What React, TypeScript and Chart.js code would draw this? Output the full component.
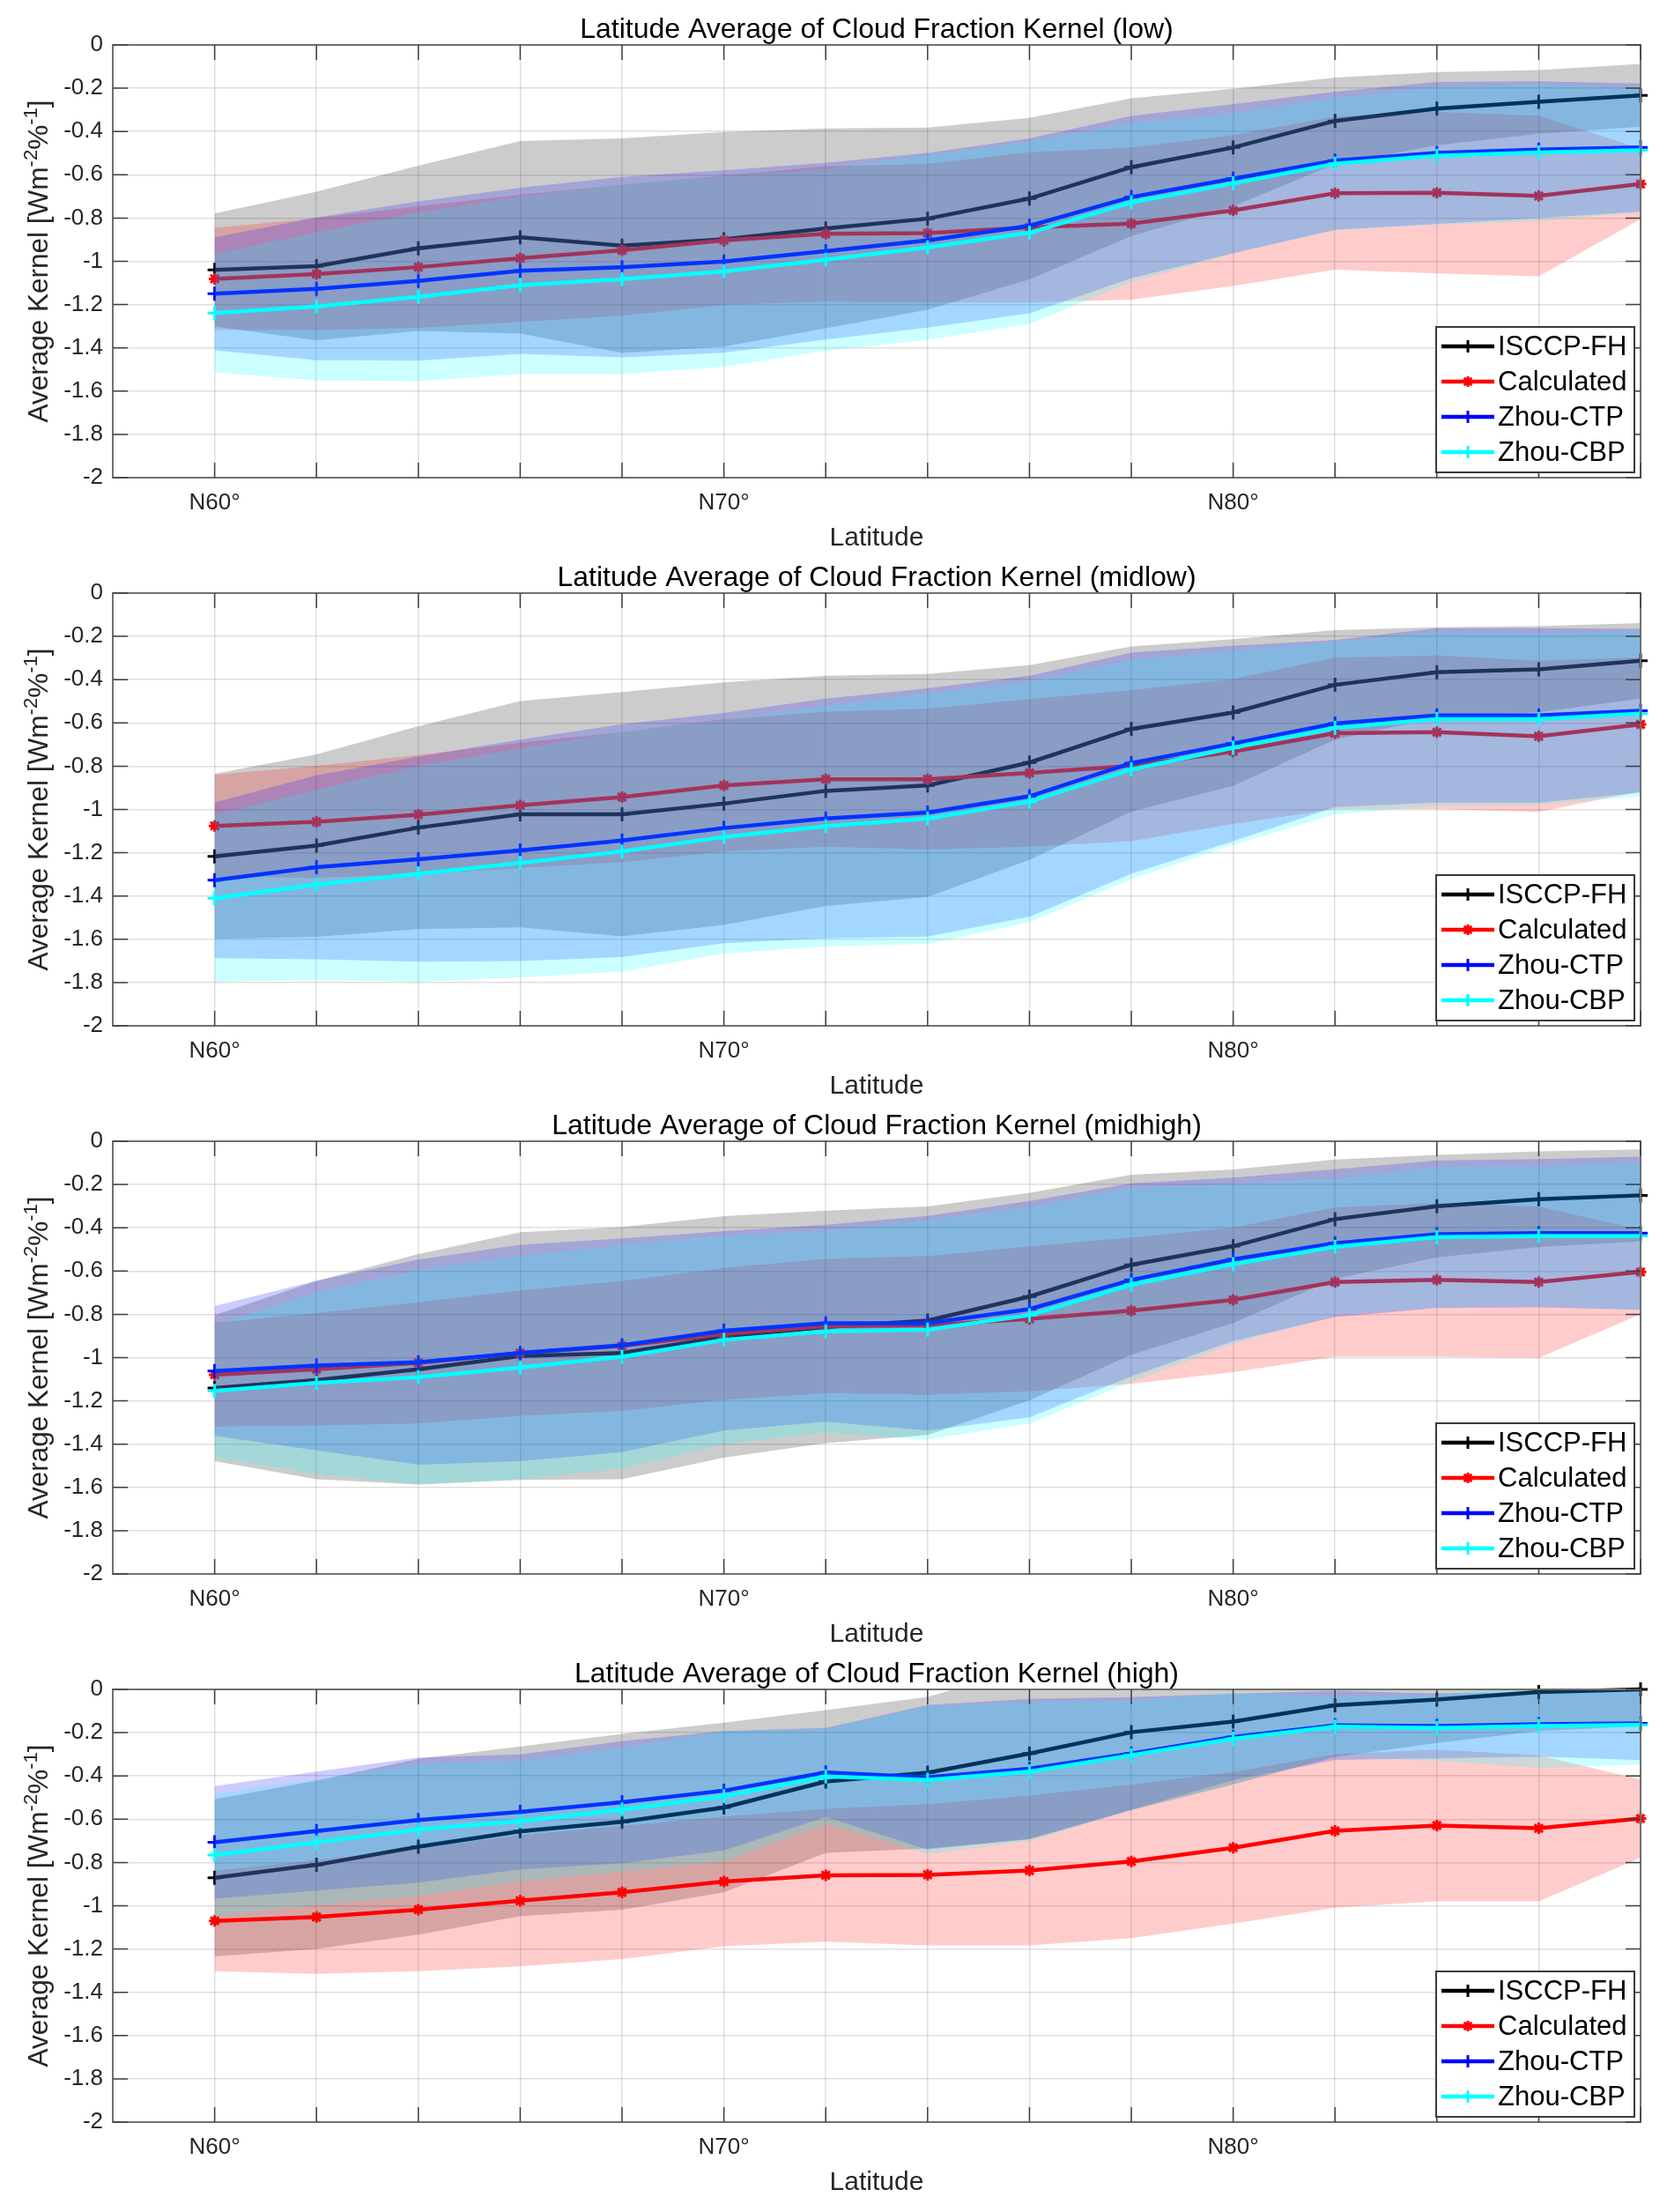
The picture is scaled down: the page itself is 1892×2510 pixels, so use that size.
import React, { useEffect, useRef } from 'react';
import { Chart, registerables } from 'chart.js';

Chart.register(...registerables);

// ---------------- data ----------------
const latitudes = [60, 62, 64, 66, 68, 70, 72, 74, 76, 78, 80, 82, 84, 86, 88];
const xTickValues = [60, 62, 64, 66, 68, 70, 72, 74, 76, 78, 80, 82, 84, 86, 88];
const yTickValues = [0, -0.2, -0.4, -0.6, -0.8, -1, -1.2, -1.4, -1.6, -1.8, -2];
const seriesNames = ['ISCCP-FH', 'Calculated', 'Zhou-CTP', 'Zhou-CBP'];
const panelTitles = [
  'Latitude Average of Cloud Fraction Kernel (low)',
  'Latitude Average of Cloud Fraction Kernel (midlow)',
  'Latitude Average of Cloud Fraction Kernel (midhigh)',
  'Latitude Average of Cloud Fraction Kernel (high)',
];

// low
const lowIsccpMean = [-1.04, -1.022, -0.94, -0.889, -0.928, -0.898, -0.848, -0.803, -0.71, -0.565, -0.474, -0.351, -0.294, -0.263, -0.233];
const lowIsccpStd = [0.261, 0.344, 0.382, 0.445, 0.496, 0.496, 0.462, 0.421, 0.373, 0.319, 0.271, 0.2, 0.169, 0.147, 0.145];
const lowCalcMean = [-1.081, -1.059, -1.027, -0.986, -0.949, -0.903, -0.873, -0.87, -0.843, -0.826, -0.765, -0.685, -0.683, -0.698, -0.643];
const lowCalcStd = [0.236, 0.259, 0.281, 0.294, 0.303, 0.299, 0.312, 0.32, 0.347, 0.351, 0.349, 0.354, 0.373, 0.371, 0.163];
const lowCtpMean = [-1.15, -1.127, -1.091, -1.044, -1.027, -1.001, -0.953, -0.903, -0.836, -0.703, -0.618, -0.535, -0.499, -0.484, -0.474];
const lowCtpStd = [0.261, 0.33, 0.368, 0.384, 0.417, 0.422, 0.408, 0.404, 0.404, 0.375, 0.344, 0.319, 0.328, 0.316, 0.296];
const lowCbpMean = [-1.239, -1.209, -1.164, -1.111, -1.082, -1.047, -0.993, -0.936, -0.868, -0.728, -0.64, -0.549, -0.512, -0.497, -0.487];
const lowCbpStd = [0.274, 0.342, 0.39, 0.41, 0.439, 0.441, 0.42, 0.427, 0.421, 0.369, 0.324, 0.307, 0.319, 0.318, 0.286];

// midlow
const midlowIsccpMean = [-1.217, -1.167, -1.084, -1.022, -1.022, -0.973, -0.914, -0.889, -0.783, -0.628, -0.552, -0.424, -0.366, -0.352, -0.313];
const midlowIsccpStd = [0.382, 0.422, 0.469, 0.523, 0.565, 0.561, 0.532, 0.515, 0.45, 0.382, 0.339, 0.253, 0.208, 0.199, 0.175];
const midlowCalcMean = [-1.076, -1.057, -1.024, -0.981, -0.943, -0.889, -0.86, -0.86, -0.831, -0.798, -0.732, -0.648, -0.643, -0.662, -0.607];
const midlowCalcStd = [0.236, 0.259, 0.276, 0.29, 0.3, 0.305, 0.312, 0.325, 0.341, 0.349, 0.335, 0.35, 0.355, 0.349, 0.31];
const midlowCtpMean = [-1.327, -1.267, -1.23, -1.189, -1.144, -1.086, -1.042, -1.014, -0.939, -0.786, -0.695, -0.603, -0.565, -0.565, -0.544];
const midlowCtpStd = [0.36, 0.425, 0.474, 0.512, 0.538, 0.532, 0.554, 0.574, 0.557, 0.511, 0.452, 0.386, 0.403, 0.403, 0.379];
const midlowCbpMean = [-1.41, -1.347, -1.297, -1.247, -1.194, -1.127, -1.077, -1.042, -0.964, -0.815, -0.715, -0.623, -0.582, -0.582, -0.557];
const midlowCbpStd = [0.386, 0.44, 0.499, 0.529, 0.555, 0.539, 0.556, 0.579, 0.557, 0.507, 0.449, 0.399, 0.402, 0.396, 0.382];

// midhigh
const midhighIsccpMean = [-1.141, -1.104, -1.054, -0.993, -0.979, -0.904, -0.858, -0.829, -0.718, -0.571, -0.485, -0.36, -0.3, -0.268, -0.25];
const midhighIsccpStd = [0.338, 0.458, 0.533, 0.572, 0.583, 0.558, 0.537, 0.528, 0.48, 0.416, 0.355, 0.275, 0.237, 0.221, 0.212];
const midhighCalcMean = [-1.079, -1.054, -1.024, -0.979, -0.946, -0.891, -0.854, -0.851, -0.821, -0.783, -0.733, -0.651, -0.641, -0.651, -0.604];
const midhighCalcStd = [0.24, 0.26, 0.28, 0.29, 0.3, 0.305, 0.31, 0.32, 0.335, 0.338, 0.334, 0.345, 0.355, 0.35, 0.195];
const midhighCtpMean = [-1.062, -1.037, -1.021, -0.979, -0.943, -0.876, -0.841, -0.841, -0.776, -0.641, -0.546, -0.471, -0.43, -0.425, -0.425];
const midhighCtpStd = [0.3, 0.392, 0.474, 0.5, 0.494, 0.461, 0.455, 0.496, 0.5, 0.446, 0.378, 0.342, 0.341, 0.343, 0.354];
const midhighCbpMean = [-1.154, -1.117, -1.091, -1.046, -0.996, -0.918, -0.879, -0.871, -0.804, -0.663, -0.568, -0.488, -0.443, -0.438, -0.438];
const midhighCbpStd = [0.306, 0.42, 0.496, 0.516, 0.516, 0.482, 0.467, 0.508, 0.5, 0.449, 0.37, 0.316, 0.325, 0.323, 0.341];

// high
const highIsccpMean = [-0.871, -0.811, -0.727, -0.656, -0.612, -0.546, -0.426, -0.385, -0.296, -0.198, -0.149, -0.073, -0.047, -0.012, 0.0];
const highIsccpStd = [0.363, 0.389, 0.406, 0.392, 0.406, 0.392, 0.33, 0.35, 0.397, 0.36, 0.29, 0.24, 0.2, 0.18, 0.17];
const highCalcMean = [-1.07, -1.052, -1.018, -0.977, -0.938, -0.888, -0.859, -0.857, -0.837, -0.795, -0.732, -0.654, -0.629, -0.642, -0.597];
const highCalcStd = [0.232, 0.263, 0.284, 0.303, 0.308, 0.299, 0.307, 0.326, 0.346, 0.355, 0.35, 0.355, 0.351, 0.338, 0.181];
const highCtpMean = [-0.707, -0.655, -0.604, -0.566, -0.521, -0.468, -0.384, -0.406, -0.367, -0.296, -0.22, -0.166, -0.169, -0.161, -0.157];
const highCtpStd = [0.26, 0.275, 0.289, 0.266, 0.282, 0.276, 0.206, 0.334, 0.323, 0.26, 0.2, 0.16, 0.15, 0.15, 0.17];
const highCbpMean = [-0.766, -0.707, -0.648, -0.609, -0.555, -0.494, -0.402, -0.419, -0.38, -0.304, -0.228, -0.172, -0.178, -0.169, -0.164];
const highCbpStd = [0.282, 0.29, 0.307, 0.279, 0.287, 0.301, 0.22, 0.342, 0.322, 0.254, 0.212, 0.141, 0.152, 0.194, 0.183];

// ---------------- styles ----------------
const lineColors = ['#000000', '#ff0000', '#0000ff', '#00ffff'];
const fillColors = ['rgba(0,0,0,0.2)', 'rgba(255,0,0,0.2)', 'rgba(0,0,255,0.2)', 'rgba(0,255,255,0.2)'];
const markerStyles = ['cross', 'star', 'cross', 'cross'];
const FONT = '"Liberation Sans", Arial, Helvetica, sans-serif';
const PANEL_H = 622;
const PANEL_W = 1892;

const panels = [
  { title: panelTitles[0], means: [lowIsccpMean, lowCalcMean, lowCtpMean, lowCbpMean], stds: [lowIsccpStd, lowCalcStd, lowCtpStd, lowCbpStd] },
  { title: panelTitles[1], means: [midlowIsccpMean, midlowCalcMean, midlowCtpMean, midlowCbpMean], stds: [midlowIsccpStd, midlowCalcStd, midlowCtpStd, midlowCbpStd] },
  { title: panelTitles[2], means: [midhighIsccpMean, midhighCalcMean, midhighCtpMean, midhighCbpMean], stds: [midhighIsccpStd, midhighCalcStd, midhighCtpStd, midhighCbpStd] },
  { title: panelTitles[3], means: [highIsccpMean, highCalcMean, highCtpMean, highCbpMean], stds: [highIsccpStd, highCalcStd, highCtpStd, highCbpStd] },
];

function fmtY(v: number): string {
  const r = Math.round(v * 10) / 10;
  if (r === 0) return '0';
  if (Number.isInteger(r)) return String(r);
  return r.toFixed(1);
}

function drawMarker(ctx: CanvasRenderingContext2D, style: string, x: number, y: number, r: number) {
  ctx.beginPath();
  ctx.moveTo(x - r, y);
  ctx.lineTo(x + r, y);
  ctx.moveTo(x, y - r);
  ctx.lineTo(x, y + r);
  if (style === 'star') {
    const d = r * Math.SQRT1_2;
    ctx.moveTo(x - d, y - d);
    ctx.lineTo(x + d, y + d);
    ctx.moveTo(x - d, y + d);
    ctx.lineTo(x + d, y - d);
  }
  ctx.stroke();
}

function Panel({ title, means, stds }: { title: string; means: number[][]; stds: number[][] }) {
  const ref = useRef<HTMLCanvasElement>(null);

  useEffect(() => {
    const canvas = ref.current;
    if (!canvas) return;
    const datasets: any[] = [];
    means.forEach((m, s) => {
      const sd = stds[s];
      datasets.push({
        label: seriesNames[s] + ' upper',
        data: latitudes.map((x, i) => ({ x, y: m[i] + sd[i] })),
        borderWidth: 0,
        borderColor: 'transparent',
        pointRadius: 0,
        backgroundColor: fillColors[s],
        fill: { target: s * 3 + 1 },
        order: 100 - s * 10,
      });
      datasets.push({
        label: seriesNames[s] + ' lower',
        data: latitudes.map((x, i) => ({ x, y: m[i] - sd[i] })),
        borderWidth: 0,
        borderColor: 'transparent',
        pointRadius: 0,
        fill: false,
        order: 100 - s * 10,
      });
      datasets.push({
        label: seriesNames[s],
        data: latitudes.map((x, i) => ({ x, y: m[i] })),
        borderColor: lineColors[s],
        backgroundColor: lineColors[s],
        borderWidth: 4.5,
        pointStyle: markerStyles[s],
        pointRadius: s === 1 ? 6.5 : 8,
        pointBorderWidth: 3,
        pointBorderColor: lineColors[s],
        fill: false,
        tension: 0,
        clip: 14,
        order: 95 - s * 10,
      });
    });

    const decor = {
      id: 'decor',
      afterDraw(chart: any) {
        const ctx: CanvasRenderingContext2D = chart.ctx;
        const a = chart.chartArea;
        const xs = chart.scales.x;
        const ys = chart.scales.y;
        ctx.save();
        // box
        ctx.strokeStyle = '#707070';
        ctx.lineWidth = 2;
        ctx.strokeRect(a.left, a.top, a.right - a.left, a.bottom - a.top);
        // inward ticks
        ctx.strokeStyle = '#404040';
        ctx.lineWidth = 1.5;
        const tl = 17;
        ctx.beginPath();
        xTickValues.forEach((v) => {
          const px = xs.getPixelForValue(v);
          ctx.moveTo(px, a.top);
          ctx.lineTo(px, a.top + tl);
          ctx.moveTo(px, a.bottom);
          ctx.lineTo(px, a.bottom - tl);
        });
        yTickValues.forEach((v) => {
          const py = ys.getPixelForValue(v);
          ctx.moveTo(a.left, py);
          ctx.lineTo(a.left + tl, py);
          ctx.moveTo(a.right, py);
          ctx.lineTo(a.right - tl, py);
        });
        ctx.stroke();

        const cx = (a.left + a.right) / 2;
        // title
        ctx.fillStyle = '#000';
        ctx.font = `32px ${FONT}`;
        ctx.textAlign = 'center';
        ctx.textBaseline = 'alphabetic';
        ctx.fillText(title, cx, 43);
        // x label
        ctx.fillStyle = '#262626';
        ctx.font = `30px ${FONT}`;
        ctx.fillText('Latitude', cx, 619);

        // y label with superscripts
        const mainF = `31.5px ${FONT}`;
        const supF = `22px ${FONT}`;
        const parts: [string, string, number][] = [
          ['Average Kernel [Wm', mainF, 0],
          ['-2', supF, -12],
          ['%', mainF, 0],
          ['-1', supF, -12],
          [']', mainF, 0],
        ];
        let total = 0;
        const widths = parts.map(([t, f]) => {
          ctx.font = f;
          const w = ctx.measureText(t).width;
          total += w;
          return w;
        });
        ctx.save();
        ctx.translate(54, (a.top + a.bottom) / 2);
        ctx.rotate(-Math.PI / 2);
        ctx.textAlign = 'left';
        let px = -total / 2;
        parts.forEach(([t, f, dy], i) => {
          ctx.font = f;
          ctx.fillText(t, px, dy);
          px += widths[i];
        });
        ctx.restore();

        // legend
        const bw = 225;
        const bh = 165;
        const bx = a.right - 7 - bw;
        const by = a.bottom - 6 - bh;
        ctx.fillStyle = '#ffffff';
        ctx.fillRect(bx, by, bw, bh);
        ctx.strokeStyle = '#3a3a3a';
        ctx.lineWidth = 2;
        ctx.strokeRect(bx, by, bw, bh);
        ctx.font = `31px ${FONT}`;
        ctx.textAlign = 'left';
        ctx.textBaseline = 'middle';
        seriesNames.forEach((name, i) => {
          const ry = by + 22 + i * 40;
          ctx.strokeStyle = lineColors[i];
          ctx.lineWidth = 4.5;
          ctx.beginPath();
          ctx.moveTo(bx + 6, ry);
          ctx.lineTo(bx + 66, ry);
          ctx.stroke();
          ctx.lineWidth = 3;
          drawMarker(ctx, markerStyles[i], bx + 36, ry, i === 1 ? 6 : 7);
          ctx.fillStyle = '#000';
          ctx.fillText(name, bx + 70, ry + 1);
        });
        ctx.restore();
      },
    };

    const chart = new Chart(canvas, {
      type: 'line',
      data: { datasets },
      options: {
        animation: false,
        responsive: false,
        events: [],
        layout: { padding: { top: 51, right: 30, left: 0, bottom: 0 } },
        plugins: {
          legend: { display: false },
          tooltip: { enabled: false },
          title: { display: false },
        },
        scales: {
          x: {
            type: 'linear',
            min: 58,
            max: 88,
            afterBuildTicks: (scale: any) => {
              scale.ticks = xTickValues.map((v) => ({ value: v }));
            },
            afterFit: (scale: any) => {
              scale.height = 80;
            },
            ticks: {
              autoSkip: false,
              maxRotation: 0,
              padding: 13,
              color: '#262626',
              font: { family: FONT, size: 26 },
              callback: (v: any) => (Number(v) % 10 === 0 ? `N${v}°` : ''),
            },
            grid: { color: 'rgba(38,38,38,0.15)', lineWidth: 1.5, drawTicks: false },
            border: { display: false },
          },
          y: {
            type: 'linear',
            min: -2,
            max: 0,
            afterBuildTicks: (scale: any) => {
              scale.ticks = yTickValues.map((v) => ({ value: v }));
            },
            afterFit: (scale: any) => {
              scale.width = 128;
            },
            ticks: {
              autoSkip: false,
              padding: 11,
              color: '#262626',
              font: { family: FONT, size: 26 },
              callback: (v: any) => fmtY(Number(v)),
            },
            grid: { color: 'rgba(38,38,38,0.15)', lineWidth: 1.5, drawTicks: false },
            border: { display: false },
          },
        },
      } as any,
      plugins: [decor],
    });
    return () => chart.destroy();
  }, [title, means, stds]);

  return <canvas ref={ref} width={PANEL_W} height={PANEL_H} style={{ display: 'block', width: PANEL_W, height: PANEL_H }} />;
}

export default function App() {
  return (
    <div style={{ position: 'absolute', left: 0, top: 0, width: PANEL_W, height: 2510, background: '#ffffff' }}>
      {panels.map((p, i) => (
        <div key={i} style={{ position: 'absolute', left: 0, top: i * PANEL_H, width: PANEL_W, height: PANEL_H }}>
          <Panel title={p.title} means={p.means} stds={p.stds} />
        </div>
      ))}
    </div>
  );
}
